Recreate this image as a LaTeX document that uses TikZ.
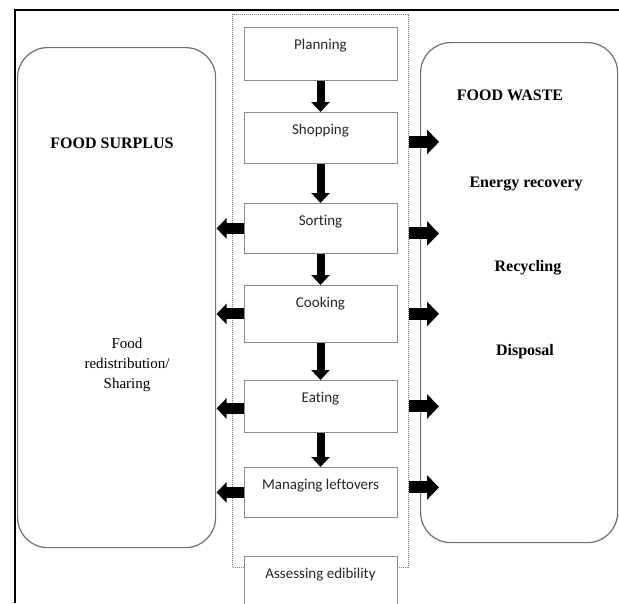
\documentclass[tikz,border=0pt]{standalone}
\usepackage{fontspec}
\setmainfont{Liberation Serif}
\newfontfamily\calib[Ligatures=NoCommon]{Carlito}
\usetikzlibrary{arrows.meta}
\definecolor{boxgray}{HTML}{8C8C8C}
\definecolor{roundgray}{HTML}{707070}
\definecolor{dotgray}{HTML}{808080}
\begin{document}
\begin{tikzpicture}[x=1pt,y=-1pt,
  procbox/.style={draw=boxgray, line width=0.9pt, fill=white, minimum width=153pt,
    minimum height=#1, anchor=north, inner sep=0pt},
  plabel/.style={anchor=north, inner sep=0pt, yshift=-11pt, text height=11pt, text depth=3pt,
    font=\calib\fontsize{15}{18}\selectfont, text=black!85},
  framebox/.style={draw=dotgray, densely dotted, line width=1pt, minimum width=176pt,
    minimum height=553pt, anchor=north west, inner sep=0pt},
  roundbox/.style={draw=roundgray, line width=1.2pt, rounded corners=30pt, minimum width=198pt,
    minimum height=500pt, anchor=north west, inner sep=0pt},
  heading/.style={font=\bfseries\fontsize{16}{19}\selectfont, inner sep=0pt},
  plain/.style={font=\fontsize{15}{20}\selectfont, align=center, inner sep=0pt},
  darr/.style={line width=8pt, -{Triangle[length=10pt,width=18pt]}},
  rarr/.style={line width=12pt, -{Triangle[length=12pt,width=24pt]}},
  larr/.style={line width=11pt, -{Triangle[length=10pt,width=20pt]}}
]
\clip (0,0) rectangle (619,603);
\fill[white] (0,0) rectangle (619,603);
% outer border
\draw[black, line width=1.5pt] (15,603) -- (15,10) -- (619,10);

% side boxes
\node[roundbox] (surplus) at (17,47) {};
\node[roundbox, minimum width=197pt] (waste) at (420,42) {};

% dotted frame
\node[framebox] (frame) at (232,14) {};

% process boxes
\node[procbox=53pt, label={[plabel]north:Planning}] (plan) at (320.5,27) {};
\node[procbox=51pt, label={[plabel]north:Shopping}] (shop) at (320.5,112) {};
\node[procbox=50pt, label={[plabel]north:Sorting}] (sort) at (320.5,203) {};
\node[procbox=57pt, label={[plabel]north:Cooking}] (cook) at (320.5,285) {};
\node[procbox=52pt, label={[plabel]north:Eating}] (eat) at (320.5,380) {};
\node[procbox=50pt, label={[plabel]north:Managing leftovers}] (manage) at (320.5,467) {};
\node[procbox=60pt, label={[plabel]north:Assessing edibility}] (assess) at (320.5,556) {};

% texts
\node[heading] (surplustitle) at (112,143) {FOOD SURPLUS};
\node[plain] (share) at (127,365) {Food\\redistribution/\\Sharing};
\node[heading] (wastetitle) at (510,95) {FOOD WASTE};
\node[heading] (energy) at (526,184) {Energy recovery};
\node[heading] (recyc) at (528,268) {Recycling};
\node[heading] (disp) at (525,352) {Disposal};

% down arrows
\draw[darr] (plan.south) -- (shop.north);
\draw[darr] (shop.south) -- (sort.north);
\draw[darr] (sort.south) -- (cook.north);
\draw[darr] (cook.south) -- (eat.north);
\draw[darr] (eat.south) -- (manage.north);

% right arrows
\draw[rarr] ([yshift=-4pt]shop.east -| frame.east) -- ++(30,0);
\draw[rarr] ([yshift=-5pt]sort.east -| frame.east) -- ++(30,0);
\draw[rarr] (cook.east -| frame.east) -- ++(30,0);
\draw[rarr] (eat.east -| frame.east) -- ++(30,0);
\draw[rarr] ([yshift=5pt]manage.east -| frame.east) -- ++(30,0);

% left arrows
\draw[larr] (sort.west) -- ++(-27,0);
\draw[larr] (cook.west) -- ++(-27,0);
\draw[larr] ([yshift=-2pt]eat.west) -- ++(-27,0);
\draw[larr] (manage.west) -- ++(-27,0);
\end{tikzpicture}
\end{document}
